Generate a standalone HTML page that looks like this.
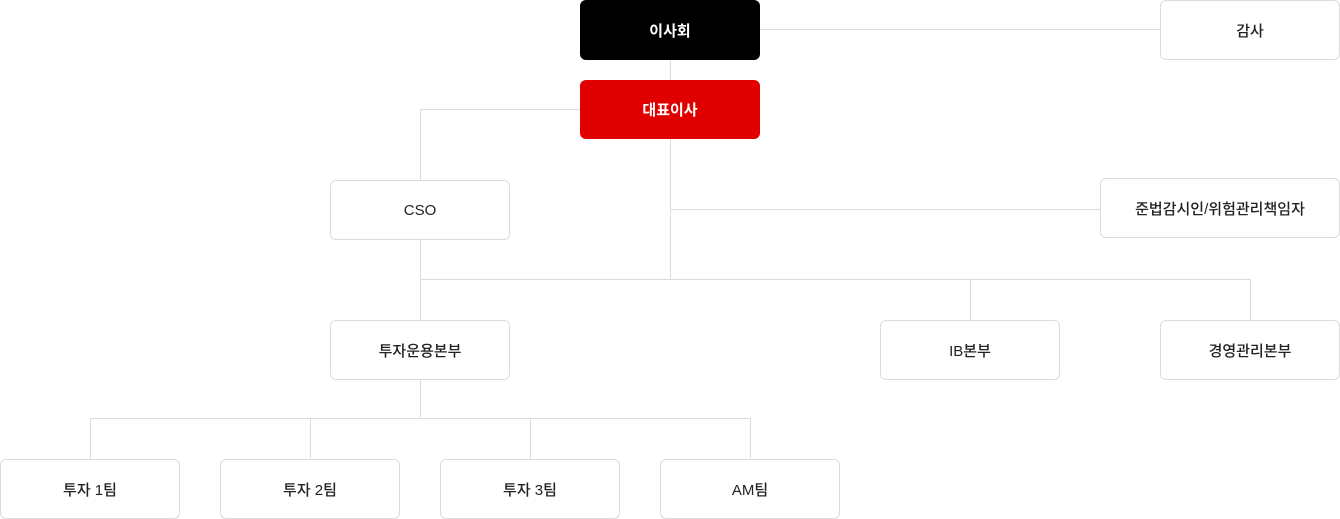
<!DOCTYPE html>
<html><head><meta charset="utf-8">
<style>
html,body{margin:0;padding:0;background:#fff;}
body{width:1340px;height:519px;position:relative;overflow:hidden;font-family:"Liberation Sans","Noto Sans CJK KR",sans-serif;}
.b{position:absolute;box-sizing:border-box;border:1px solid #dcdcdc;border-radius:6px;background:#fff;display:flex;align-items:center;justify-content:center;font-size:15px;color:#222;font-weight:500;}
.k{background:#000;color:#fff;border-color:#000;font-weight:700;}
.r{background:#e00000;color:#fff;border-color:#e00000;font-weight:700;}
.h{position:absolute;height:1px;background:#dcdcdc;}
.v{position:absolute;width:1px;background:#dcdcdc;}
</style></head><body>
<div class="h" style="left:760px;top:29px;width:400px"></div>
<div class="v" style="left:670px;top:60px;height:20px"></div>
<div class="h" style="left:420px;top:109px;width:160px"></div>
<div class="v" style="left:420px;top:109px;height:71px"></div>
<div class="v" style="left:670px;top:139px;height:140px"></div>
<div class="h" style="left:670px;top:209px;width:430px"></div>
<div class="h" style="left:420px;top:279px;width:830px"></div>
<div class="v" style="left:420px;top:240px;height:80px"></div>
<div class="v" style="left:970px;top:279px;height:41px"></div>
<div class="v" style="left:1250px;top:279px;height:41px"></div>
<div class="v" style="left:420px;top:380px;height:38px"></div>
<div class="h" style="left:90px;top:418px;width:661px"></div>
<div class="v" style="left:90px;top:418px;height:41px"></div>
<div class="v" style="left:310px;top:418px;height:41px"></div>
<div class="v" style="left:530px;top:418px;height:41px"></div>
<div class="v" style="left:750px;top:418px;height:41px"></div>

<div class="b k" style="left:580px;top:0;width:180px;height:60px">이사회</div>
<div class="b" style="left:1160px;top:0;width:180px;height:60px">감사</div>
<div class="b r" style="left:580px;top:80px;width:180px;height:59px">대표이사</div>
<div class="b" style="left:330px;top:180px;width:180px;height:60px">CSO</div>
<div class="b" style="left:1100px;top:178px;width:240px;height:60px">준법감시인/위험관리책임자</div>
<div class="b" style="left:330px;top:320px;width:180px;height:60px">투자운용본부</div>
<div class="b" style="left:880px;top:320px;width:180px;height:60px">IB본부</div>
<div class="b" style="left:1160px;top:320px;width:180px;height:60px">경영관리본부</div>
<div class="b" style="left:0;top:459px;width:180px;height:60px">투자 1팀</div>
<div class="b" style="left:220px;top:459px;width:180px;height:60px">투자 2팀</div>
<div class="b" style="left:440px;top:459px;width:180px;height:60px">투자 3팀</div>
<div class="b" style="left:660px;top:459px;width:180px;height:60px">AM팀</div>
</body></html>
